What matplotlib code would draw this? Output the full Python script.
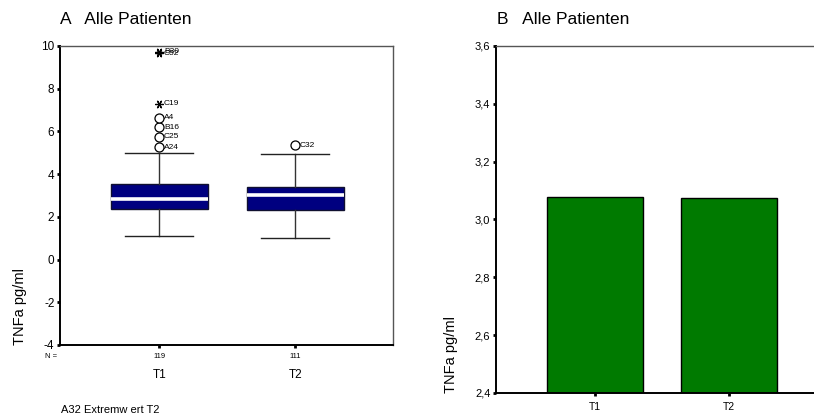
import matplotlib
matplotlib.use("Agg")
import matplotlib.pyplot as plt
from matplotlib.ticker import FuncFormatter

plt.rcParams['font.family'] = ['Liberation Sans', 'DejaVu Sans']
plt.rcParams['axes.unicode_minus'] = False

# ---- data ----
groups = ["T1", "T2"]
n_counts = ["119", "111"]

box_q1 = [2.36, 2.32]
box_median = [2.82, 3.01]
box_q3 = [3.53, 3.41]
whisker_low = [1.12, 1.01]
whisker_high = [4.99, 4.94]

# outliers (circles) and extreme values (stars): group index, value, case label
outlier_group = [0, 0, 0, 0, 1]
outlier_value = [5.27, 5.74, 6.19, 6.64, 5.35]
outlier_label = ["A24", "C25", "B16", "A4", "C32"]

extreme_group = [0, 0, 0]
extreme_value = [7.30, 9.73, 9.66]
extreme_label = ["C19", "B30", "C52"]

mean_values = [3.078, 3.073]

box_ticks = [-4, -2, 0, 2, 4, 6, 8, 10]
bar_ticks = [2.4, 2.6, 2.8, 3.0, 3.2, 3.4, 3.6]

navy = "#000080"
green = "#007A00"

fig = plt.figure(figsize=(8.14, 4.17), dpi=100)

def style_axes(ax, labelsize):
    for s in ("left", "bottom"):
        ax.spines[s].set_linewidth(1.4)
        ax.spines[s].set_color("black")
    for s in ("top", "right"):
        ax.spines[s].set_linewidth(1.0)
        ax.spines[s].set_color("#555555")
    ax.tick_params(axis="both", direction="out", length=2.5, width=2.0,
                   color="black", labelsize=labelsize, pad=1.5)

# ---- panel A: boxplot ----
axA = fig.add_axes([0.0737, 0.1727, 0.4091, 0.717])
positions = [1, 2]
stats = []
for i, g in enumerate(groups):
    stats.append(dict(med=box_median[i], q1=box_q1[i], q3=box_q3[i],
                      whislo=whisker_low[i], whishi=whisker_high[i],
                      fliers=[], label=g))
axA.bxp(stats, positions=positions, widths=0.713, patch_artist=True,
        showfliers=False,
        boxprops=dict(facecolor=navy, edgecolor="#101030", linewidth=1.0),
        medianprops=dict(color="white", linewidth=2.6),
        whiskerprops=dict(color="#333333", linewidth=1.0),
        capprops=dict(color="#222222", linewidth=1.0), capwidths=0.5)

for g, v, lab in zip(outlier_group, outlier_value, outlier_label):
    x = positions[g]
    axA.plot(x, v, marker="o", markersize=6.5, markerfacecolor="white",
             markeredgecolor="black", markeredgewidth=0.9, zorder=5)
    axA.annotate(lab, (x, v), xytext=(3.5, 0), textcoords="offset points",
                 fontsize=6, va="center", ha="left")
for g, v, lab in zip(extreme_group, extreme_value, extreme_label):
    x = positions[g]
    axA.plot(x, v, marker=(6, 2, 30), markersize=6, color="black",
             markeredgewidth=0.9, zorder=5)
    axA.annotate(lab, (x, v), xytext=(3.5, 0), textcoords="offset points",
                 fontsize=6, va="center", ha="left")

axA.set_xlim(0.27, 2.72)
axA.set_ylim(-4, 10)
axA.set_yticks(box_ticks)
axA.set_xticks(positions)
axA.set_xticklabels(n_counts)
style_axes(axA, 8.5)
axA.tick_params(axis="x", labelsize=5.5, pad=3)
axA.text(-0.045, -0.04, "N =", transform=axA.transAxes, fontsize=5.5,
         ha="left", va="center")
for x, g in zip(positions, groups):
    axA.text(x, -0.1, g, transform=axA.get_xaxis_transform(), fontsize=8.5,
             ha="center", va="center")
axA.set_ylabel("TNFa pg/ml", fontsize=10.5, loc="bottom")
axA.yaxis.set_label_coords(-0.098, 0.0)
fig.text(60 / 814, 1 - 20 / 417, "A   Alle Patienten", fontsize=12.5,
         ha="left", va="center")
fig.text(61 / 814, 1 - 410 / 417, "A32 Extremw ert T2", fontsize=8,
         ha="left", va="center")

# ---- panel B: mean bars ----
axB = fig.add_axes([0.6093, 0.0576, 0.392, 0.8321])
axB.bar(positions, mean_values, width=0.715, color=green, edgecolor="black",
        linewidth=1.0, bottom=0)
axB.set_xlim(0.266, 2.64)
axB.set_ylim(2.4, 3.6)
axB.set_yticks(bar_ticks)
axB.yaxis.set_major_formatter(FuncFormatter(lambda v, p: f"{v:.1f}".replace(".", ",")))
axB.set_xticks(positions)
axB.set_xticklabels(groups)
style_axes(axB, 8)
axB.tick_params(axis="x", labelsize=7.5, pad=4)
axB.set_ylabel("TNFa pg/ml", fontsize=10.5, loc="bottom")
axB.yaxis.set_label_coords(-0.118, 0.0)
fig.text(497 / 814, 1 - 20 / 417, "B   Alle Patienten", fontsize=12.5,
         ha="left", va="center")

fig.savefig("out.png", dpi=100)
